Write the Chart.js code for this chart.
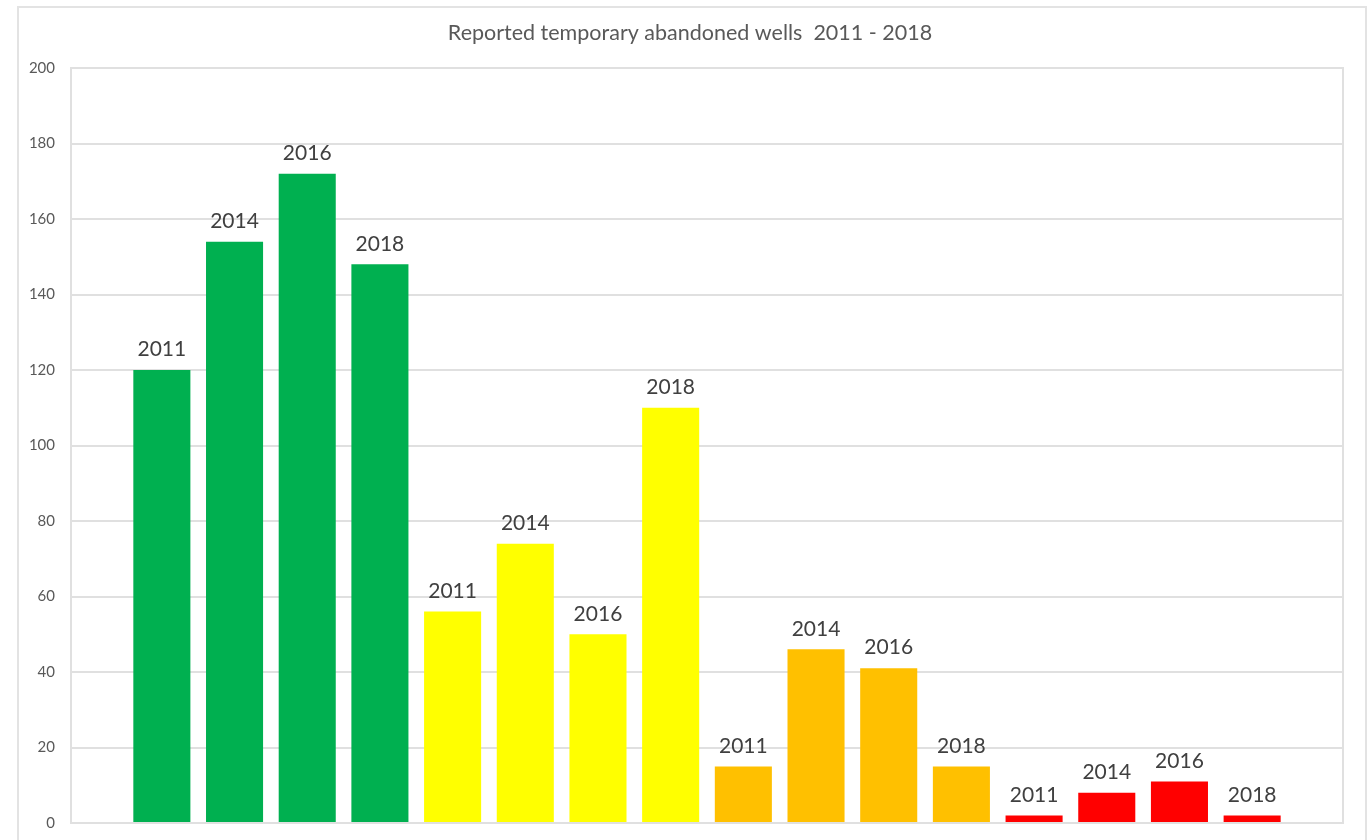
<!DOCTYPE html>
<html>
<head>
<meta charset="utf-8">
<title>Reported temporary abandoned wells 2011 - 2018</title>
<script src="https://cdn.jsdelivr.net/npm/chart.js@4/dist/chart.umd.min.js"></script>
<style>
    html, body { margin: 0; padding: 0; background: #ffffff; overflow: hidden; }
    #frame {
        position: absolute; left: 17px; top: 6px;
        width: 1346px; height: 900px;
        border: 2px solid #e3e3e3;
    }
    #wrap { position: absolute; left: 0; top: 0; width: 1371px; height: 840px; }
</style>
</head>
<body>
<div id="frame"></div>
<div id="wrap"><canvas id="wells-chart"></canvas></div>
<script>
// --- Dados ---
const chartTitle = 'Reported temporary abandoned wells  2011 - 2018';
const years = ['2011', '2014', '2016', '2018', '2011', '2014', '2016', '2018',
               '2011', '2014', '2016', '2018', '2011', '2014', '2016', '2018'];
const wellCounts = [120, 154, 172, 148, 56, 74, 50, 110, 15, 46, 41, 15, 2, 8, 11, 2];
const groupColors = ['#00B050', '#FFFF00', '#FFC000', '#FF0000'];
const yTicks = [0, 20, 40, 60, 80, 100, 120, 140, 160, 180, 200];

const textColor = '#595959';
const gridColor = '#e0e0e0';
const fontFamily = 'Lato, "Open Sans", sans-serif';

// título centrado na moldura externa (não na área do gráfico)
const titleText = {
    id: 'titleText',
    afterDraw(chart) {
        const ctx = chart.ctx;
        ctx.save();
        ctx.font = '21.5px ' + fontFamily;
        ctx.fillStyle = textColor;
        ctx.textAlign = 'center';
        ctx.textBaseline = 'middle';
        ctx.fillText(chartTitle, 690, 33);
        ctx.restore();
    }
};

// rótulos dos anos acima de cada barra
const barLabels = {
    id: 'barLabels',
    afterDatasetsDraw(chart) {
        const ctx = chart.ctx;
        const meta = chart.getDatasetMeta(0);
        ctx.save();
        ctx.font = '21px ' + fontFamily;
        ctx.fillStyle = '#404040';
        ctx.textAlign = 'center';
        ctx.textBaseline = 'bottom';
        meta.data.forEach((bar, i) => {
            ctx.fillText(years[i], bar.x, bar.y - 10);
        });
        ctx.restore();
    }
};

// borda da área do gráfico
const plotBorder = {
    id: 'plotBorder',
    beforeDatasetsDraw(chart) {
        const { ctx, chartArea } = chart;
        ctx.save();
        ctx.strokeStyle = gridColor;
        ctx.lineWidth = 2;
        ctx.strokeRect(chartArea.left, chartArea.top, chartArea.right - chartArea.left, chartArea.bottom - chartArea.top);
        ctx.restore();
    }
};

const points = wellCounts.map((v, i) => ({ x: i, y: v }));

new Chart(document.getElementById('wells-chart'), {
    type: 'bar',
    data: {
        datasets: [{
            label: 'Wells',
            data: points,
            backgroundColor: wellCounts.map((_, i) => groupColors[Math.floor(i / 4)]),
            borderWidth: 0,
            categoryPercentage: 1,
            barPercentage: 0.785
        }]
    },
    options: {
        responsive: true,
        maintainAspectRatio: false,
        animation: false,
        layout: { padding: { left: 0, right: 28, top: 68, bottom: 17 } },
        plugins: {
            legend: { display: false },
            tooltip: { enabled: false },
            title: { display: false }
        },
        scales: {
            x: {
                type: 'linear',
                min: -1.25,
                max: 16.25,
                offset: false,
                display: false
            },
            y: {
                min: 0,
                max: 200,
                afterBuildTicks: (scale) => { scale.ticks = yTicks.map(v => ({ value: v })); },
                afterFit: (scale) => {
                    scale.width = 71;
                    scale.paddingTop = 0;
                    scale.paddingBottom = 0;
                },
                border: { display: false },
                grid: { color: gridColor, lineWidth: 2, drawTicks: false },
                ticks: {
                    color: textColor,
                    padding: 16,
                    font: { family: fontFamily, size: 15 }
                }
            }
        }
    },
    plugins: [plotBorder, barLabels, titleText]
});
</script>
</body>
</html>
